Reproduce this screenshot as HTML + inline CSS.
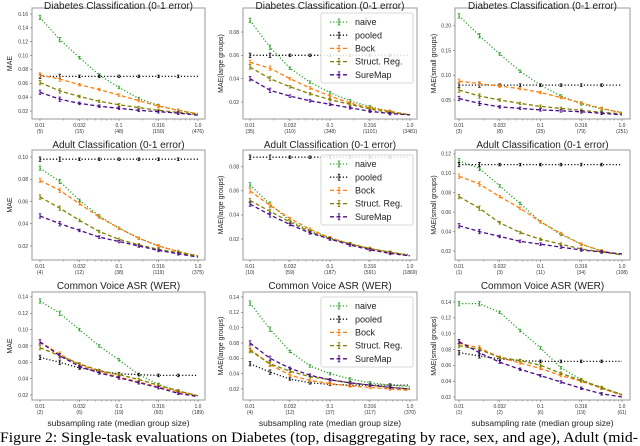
<!DOCTYPE html>
<html><head><meta charset="utf-8"><style>
html,body{margin:0;padding:0;background:#fff;}
svg{display:block;font-family:"Liberation Sans",sans-serif;}
</style></head><body>
<svg id="fig" width="640" height="446" viewBox="0 0 640 446" xmlns="http://www.w3.org/2000/svg">
<text x="0" y="442" font-family="Liberation Serif, serif" font-size="14.5" textLength="638" lengthAdjust="spacingAndGlyphs">Figure 2:  Single-task evaluations on Diabetes (top, disaggregating by race, sex, and age), Adult (mid-</text>
</svg>
<script>
const rates = [0.01,0.0178,0.0316,0.0562,0.1,0.178,0.316,0.562,1.0];
const xTickVals = [0.01,0.0316,0.1,0.316,1.0];
const xTickLabels = ["0.01","0.032","0.1","0.316","1.0"];
const seriesNames = ["naive","pooled","Bock","Struct. Reg.","SureMap"];

const r1c1_naive=[0.155,0.123,0.097,0.072,0.054,0.038,0.028,0.021,0.016];
const r1c1_pooled=[0.07,0.07,0.07,0.07,0.07,0.07,0.07,0.07,0.07];
const r1c1_bock=[0.072,0.066,0.058,0.051,0.043,0.035,0.027,0.021,0.016];
const r1c1_struct=[0.061,0.049,0.041,0.034,0.029,0.025,0.021,0.018,0.015];
const r1c1_sure=[0.047,0.037,0.031,0.027,0.024,0.021,0.019,0.017,0.014];
const r1c1_sizes=["(5)","(15)","(48)","(150)","(476)"];

const r1c2_naive=[0.090,0.067,0.049,0.037,0.028,0.021,0.016,0.012,0.009];
const r1c2_pooled=[0.06,0.06,0.06,0.06,0.06,0.06,0.06,0.06,0.06];
const r1c2_bock=[0.054,0.049,0.040,0.032,0.025,0.019,0.015,0.012,0.009];
const r1c2_struct=[0.050,0.040,0.033,0.027,0.022,0.018,0.014,0.011,0.009];
const r1c2_sure=[0.040,0.030,0.025,0.021,0.018,0.015,0.012,0.010,0.009];
const r1c2_sizes=["(35)","(110)","(348)","(1101)","(3481)"];

const r1c3_naive=[0.22,0.18,0.143,0.108,0.08,0.058,0.042,0.032,0.025];
const r1c3_pooled=[0.08,0.08,0.08,0.08,0.08,0.08,0.08,0.08,0.08];
const r1c3_bock=[0.088,0.083,0.078,0.073,0.065,0.055,0.044,0.033,0.024];
const r1c3_struct=[0.070,0.058,0.050,0.043,0.037,0.033,0.029,0.025,0.022];
const r1c3_sure=[0.053,0.043,0.036,0.033,0.030,0.028,0.026,0.023,0.020];
const r1c3_sizes=["(3)","(8)","(25)","(79)","(251)"];

const r2c1_naive=[0.090,0.078,0.061,0.047,0.036,0.027,0.020,0.015,0.011];
const r2c1_pooled=[0.098,0.098,0.098,0.098,0.098,0.098,0.098,0.098,0.098];
const r2c1_bock=[0.079,0.070,0.058,0.046,0.036,0.027,0.020,0.015,0.011];
const r2c1_struct=[0.064,0.054,0.043,0.033,0.026,0.021,0.017,0.014,0.011];
const r2c1_sure=[0.047,0.040,0.034,0.028,0.024,0.020,0.016,0.013,0.010];
const r2c1_sizes=["(4)","(12)","(38)","(119)","(375)"];

const r2c2_naive=[0.065,0.049,0.035,0.027,0.021,0.016,0.012,0.009,0.007];
const r2c2_pooled=[0.088,0.088,0.088,0.088,0.088,0.088,0.088,0.088,0.088];
const r2c2_bock=[0.060,0.048,0.037,0.028,0.021,0.016,0.012,0.009,0.006];
const r2c2_struct=[0.052,0.043,0.034,0.026,0.020,0.016,0.012,0.009,0.006];
const r2c2_sure=[0.049,0.040,0.032,0.025,0.020,0.015,0.011,0.008,0.006];
const r2c2_sizes=["(10)","(59)","(187)","(591)","(1869)"];

const r2c3_naive=[0.113,0.105,0.087,0.069,0.050,0.037,0.027,0.020,0.016];
const r2c3_pooled=[0.109,0.109,0.109,0.109,0.109,0.109,0.109,0.109,0.109];
const r2c3_bock=[0.097,0.089,0.076,0.064,0.050,0.038,0.027,0.020,0.016];
const r2c3_struct=[0.076,0.064,0.049,0.039,0.032,0.027,0.022,0.019,0.016];
const r2c3_sure=[0.046,0.040,0.035,0.030,0.027,0.024,0.021,0.019,0.017];
const r2c3_sizes=["(1)","(3)","(11)","(34)","(108)"];

const r3c1_naive=[0.135,0.120,0.100,0.080,0.063,0.045,0.033,0.025,0.019];
const r3c1_pooled=[0.066,0.060,0.053,0.049,0.046,0.045,0.044,0.044,0.044];
const r3c1_bock=[0.085,0.070,0.057,0.049,0.042,0.036,0.030,0.024,0.019];
const r3c1_struct=[0.078,0.068,0.058,0.050,0.045,0.039,0.032,0.025,0.019];
const r3c1_sure=[0.085,0.068,0.055,0.047,0.041,0.035,0.029,0.022,0.018];
const r3c1_sizes=["(2)","(6)","(19)","(60)","(189)"];

const r3c2_naive=[0.132,0.098,0.069,0.050,0.040,0.033,0.028,0.025,0.023];
const r3c2_pooled=[0.053,0.042,0.033,0.028,0.026,0.025,0.025,0.025,0.025];
const r3c2_bock=[0.072,0.052,0.038,0.031,0.027,0.024,0.022,0.020,0.018];
const r3c2_struct=[0.070,0.053,0.043,0.036,0.032,0.028,0.025,0.022,0.020];
const r3c2_sure=[0.080,0.060,0.047,0.038,0.032,0.028,0.025,0.022,0.020];
const r3c2_sizes=["(4)","(12)","(37)","(117)","(370)"];

const r3c3_naive=[0.138,0.138,0.127,0.104,0.082,0.057,0.042,0.031,0.023];
const r3c3_pooled=[0.076,0.072,0.068,0.066,0.065,0.065,0.065,0.065,0.065];
const r3c3_bock=[0.088,0.082,0.070,0.063,0.056,0.047,0.040,0.031,0.022];
const r3c3_struct=[0.085,0.080,0.070,0.066,0.060,0.050,0.041,0.032,0.023];
const r3c3_sure=[0.090,0.076,0.064,0.055,0.047,0.039,0.031,0.024,0.020];
const r3c3_sizes=["(1)","(2)","(6)","(19)","(61)"];

const yTicks_r1c1=[0.02,0.04,0.06,0.08,0.10,0.12,0.14,0.16];
const yTicks_r1c2=[0.02,0.04,0.06,0.08];
const yTicks_r1c3=[0.05,0.10,0.15,0.20];
const yTicks_r2c1=[0.02,0.04,0.06,0.08,0.10];
const yTicks_r2c2=[0.02,0.04,0.06,0.08];
const yTicks_r2c3=[0.02,0.04,0.06,0.08,0.10,0.12];
const yTicks_r3=[0.02,0.04,0.06,0.08,0.10,0.12,0.14];

const NS="http://www.w3.org/2000/svg";
const svg=document.getElementById('fig');
function mk(tag,attrs,parent){const e=document.createElementNS(NS,tag);for(const k in attrs)e.setAttribute(k,attrs[k]);(parent||svg).appendChild(e);return e;}

const colors=["#2ca02c","#111111","#ff7f0e","#808000","#4b0c8c"];
const dashes=["1.2,2","1.2,2","4,2.5","4,2.5","4,2.5"];

const cols=[{l:32,r:205,t0:40,t1:198,yl:12},{l:243,r:417,t0:250,t1:410,yl:223},{l:455,r:630,t0:459,t1:622,yl:436}];
const rows=[{t:8,b:119,title:"Diabetes Classification (0-1 error)",ty:9,xl1:127,xl2:133},
            {t:150,b:260,title:"Adult Classification (0-1 error)",ty:148,xl1:268,xl2:274},
            {t:292,b:400,title:"Common Voice ASR (WER)",ty:289,xl1:408,xl2:414}];
const ylabels=["MAE","MAE(large groups)","MAE(small groups)"];

const panels=[
 {r:0,c:0,ymin:0.0085,ymax:0.1686,yt:yTicks_r1c1,fmt:2,sizes:r1c1_sizes,s:[r1c1_naive,r1c1_pooled,r1c1_bock,r1c1_struct,r1c1_sure]},
 {r:0,c:1,ymin:0.0054,ymax:0.1006,yt:yTicks_r1c2,fmt:2,sizes:r1c2_sizes,s:[r1c2_naive,r1c2_pooled,r1c2_bock,r1c2_struct,r1c2_sure],legend:true},
 {r:0,c:2,ymin:0.0115,ymax:0.236,yt:yTicks_r1c3,fmt:2,sizes:r1c3_sizes,s:[r1c3_naive,r1c3_pooled,r1c3_bock,r1c3_struct,r1c3_sure]},
 {r:1,c:0,ymin:0.0074,ymax:0.1063,yt:yTicks_r2c1,fmt:2,sizes:r2c1_sizes,s:[r2c1_naive,r2c1_pooled,r2c1_bock,r2c1_struct,r2c1_sure]},
 {r:1,c:1,ymin:0.0025,ymax:0.094,yt:yTicks_r2c2,fmt:2,sizes:r2c2_sizes,s:[r2c2_naive,r2c2_pooled,r2c2_bock,r2c2_struct,r2c2_sure],legend:true},
 {r:1,c:2,ymin:0.0107,ymax:0.124,yt:yTicks_r2c3,fmt:2,sizes:r2c3_sizes,s:[r2c3_naive,r2c3_pooled,r2c3_bock,r2c3_struct,r2c3_sure]},
 {r:2,c:0,ymin:0.0139,ymax:0.146,yt:yTicks_r3,fmt:2,sizes:r3c1_sizes,s:[r3c1_naive,r3c1_pooled,r3c1_bock,r3c1_struct,r3c1_sure]},
 {r:2,c:1,ymin:0.0056,ymax:0.1465,yt:yTicks_r3,fmt:2,sizes:r3c2_sizes,s:[r3c2_naive,r3c2_pooled,r3c2_bock,r3c2_struct,r3c2_sure],legend:true},
 {r:2,c:2,ymin:0.0162,ymax:0.1527,yt:yTicks_r3,fmt:2,sizes:r3c3_sizes,s:[r3c3_naive,r3c3_pooled,r3c3_bock,r3c3_struct,r3c3_sure]}
];

function errbar(g,x,y,col,h){
  const a=mk('line',{x1:x,x2:x,y1:y-h,y2:y+h,stroke:col,'stroke-width':1},g);
  
  
  mk('line',{x1:x-1.3,x2:x+1.3,y1:y-h,y2:y-h,stroke:col,'stroke-width':0.8},g);
  mk('line',{x1:x-1.3,x2:x+1.3,y1:y+h,y2:y+h,stroke:col,'stroke-width':0.8},g);
}

panels.forEach((p,pi)=>{
  const C=cols[p.c],R=rows[p.r];
  const g=mk('g',{});
  
  
  const lx0=Math.log10(0.01),lx1=Math.log10(1);
  const X=v=>C.t0+(Math.log10(v)-lx0)/(lx1-lx0)*(C.t1-C.t0);
  const Y=v=>R.b-(v-p.ymin)/(p.ymax-p.ymin)*(R.b-R.t);
  const fr=mk('rect',{x:C.l,y:R.t,width:C.r-C.l,height:R.b-R.t,fill:'none',stroke:'#9a9a9a','stroke-width':1},g);
  
  
  const tt=mk('text',{x:(C.l+C.r)/2,y:R.ty,'text-anchor':'middle','font-size':10,fill:'#222'},g);
  tt.textContent=R.title;
  
  
  const yl=mk('text',{x:C.yl,y:(R.t+R.b)/2,'text-anchor':'middle','font-size':7,fill:'#222',transform:'rotate(-90 '+C.yl+' '+((R.t+R.b)/2)+')'},g);
  yl.textContent=ylabels[p.c];
  
  
  p.yt.forEach(v=>{
    const y=Y(v);
    mk('line',{x1:C.l-2,x2:C.l,y1:y,y2:y,stroke:'#666','stroke-width':0.6},g);
    const t=mk('text',{x:C.l-4,y:y+1.8,'text-anchor':'end','font-size':5,fill:'#333'},g);
    t.textContent=v.toFixed(p.fmt);
    
    
  });
  [0.02,0.03,0.04,0.05,0.06,0.07,0.08,0.09,0.2,0.3,0.4,0.5,0.6,0.7,0.8,0.9].forEach(v=>{
    mk('line',{x1:X(v),x2:X(v),y1:R.b,y2:R.b+1.5,stroke:'#777','stroke-width':0.5},g);
  });
  xTickVals.forEach((v,i)=>{
    const x=X(v);
    mk('line',{x1:x,x2:x,y1:R.b,y2:R.b+2,stroke:'#666','stroke-width':0.6},g);
    const t=mk('text',{x:x,y:R.xl1,'text-anchor':'middle','font-size':5,fill:'#333'},g);
    t.textContent=xTickLabels[i];
    
    
    const t2=mk('text',{x:x,y:R.xl2,'text-anchor':'middle','font-size':5,fill:'#333'},g);
    t2.textContent=p.sizes[i];
    
    
  });
  if(p.r===2){
    const xl=mk('text',{x:(C.l+C.r)/2,y:426,'text-anchor':'middle','font-size':8.5,fill:'#222'},g);
    xl.textContent='subsampling rate (median group size)';
    
    
  }
  p.s.forEach((arr,si)=>{
    const sg=mk('g',{},g);
    
    
    const pts=arr.map((v,i)=>X(rates[i]).toFixed(1)+','+Y(v).toFixed(1)).join(' ');
    const pl=mk('polyline',{points:pts,fill:'none',stroke:colors[si],'stroke-width':1.3,'stroke-dasharray':dashes[si]},sg);
    
    
    arr.forEach((v,i)=>{ if(i<8) errbar(sg,X(rates[i]),Y(v),colors[si],i<2?2.2:1.3); });
  });
  if(p.legend){
    const lt=R.t+5, lg=mk('g',{},g);
    
    
    mk('rect',{x:321,y:lt,width:92,height:70,rx:2,fill:'#fff','fill-opacity':0.85,stroke:'#ccc','stroke-width':0.8},lg);
    seriesNames.forEach((n,si)=>{
      const y=lt+9+si*13.2;
      const e=mk('g',{},lg);
      
      
      mk('line',{x1:330,x2:348,y1:y,y2:y,stroke:colors[si],'stroke-width':1.3,'stroke-dasharray':dashes[si]},e);
      errbar(e,339,y,colors[si],3);
      const t=mk('text',{x:355,y:y+3.1,'font-size':9,fill:'#222'},e);
      t.textContent=n;
    });
  }
});
</script>
</body></html>
